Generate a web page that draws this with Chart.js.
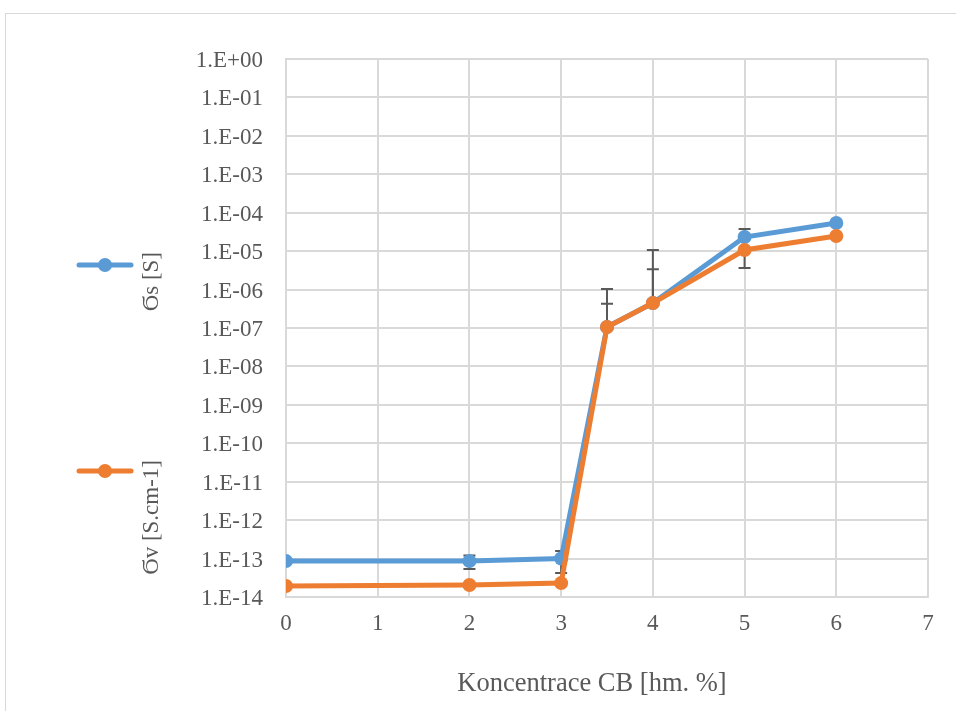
<!DOCTYPE html>
<html>
<head>
<meta charset="utf-8">
<script src="https://cdn.jsdelivr.net/npm/chart.js@4.4.1/dist/chart.umd.min.js"></script>
<style>
  html, body { margin: 0; padding: 0; background: #fff; overflow: hidden; }
  .frame { position: absolute; left: 5px; top: 13px; width: 1000px; height: 800px;
           border-left: 1px solid #d9d9d9; border-top: 1px solid #d9d9d9; }
  canvas { position: absolute; left: 0; top: 0; }
</style>
</head>
<body>
<div class="frame"></div>
<canvas id="chart" width="956" height="711"></canvas>
<script>
// data
const concentrations = [0, 2, 3, 3.5, 4, 5, 6];
const sigmaS = [8.6e-14, 8.6e-14, 1.0e-13, 1.06e-7, 4.45e-7, 2.33e-5, 5.4e-5];
const sigmaV = [1.93e-14, 2.05e-14, 2.3e-14, 1.06e-7, 4.45e-7, 1.07e-5, 2.48e-5];

// error bar ends (null = no bar on that side)
const sigmaSHigh = [null, 1.2e-13, 1.57e-13, 1.03e-6, 1.07e-5, 3.77e-5, null];
const sigmaSLow  = [null, 5.35e-14, 4.2e-14, null, null, null, null];
const sigmaVHigh = [null, null, null, 4.3e-7, 3.4e-6, null, null];
const sigmaVLow  = [null, null, null, null, null, 3.64e-6, null];

const yExponents = [-14, -13, -12, -11, -10, -9, -8, -7, -6, -5, -4, -3, -2, -1, 0];
const xTicks = [0, 1, 2, 3, 4, 5, 6, 7];

const seriesNames = ['\u03ECs [S]', '\u03ECv [S.cm-1]'];
const xTitle = 'Koncentrace CB [hm. %]';
const blue = '#5b9bd5';
const orange = '#ed7d31';
const textColor = '#595959';
const gridColor = '#d9d9d9';
const fontFamily = '"Liberation Serif", "Times New Roman", serif';

const errorBars = {
  id: 'errorBars',
  beforeDatasetsDraw(chart) {
    const ctx = chart.ctx;
    const xs = chart.scales.x, ys = chart.scales.y;
    const sets = [[sigmaS, sigmaSLow, sigmaSHigh], [sigmaV, sigmaVLow, sigmaVHigh]];
    ctx.save();
    ctx.strokeStyle = textColor;
    ctx.lineWidth = 2;
    sets.forEach(([vals, lows, highs]) => {
      vals.forEach((v, i) => {
        const px = xs.getPixelForValue(concentrations[i]);
        const pv = ys.getPixelForValue(v);
        [lows[i], highs[i]].forEach(end => {
          if (end == null) return;
          const pe = ys.getPixelForValue(end);
          ctx.beginPath();
          ctx.moveTo(px, pv);
          ctx.lineTo(px, pe);
          ctx.moveTo(px - 6, pe);
          ctx.lineTo(px + 6, pe);
          ctx.stroke();
        });
      });
    });
    ctx.restore();
  }
};

// legend on the left with upright text, plus the x axis title (sits a bit left of centre)
const sideLegend = {
  id: 'sideLegend',
  afterDraw(chart) {
    const ctx = chart.ctx;
    const items = [
      { color: blue, y: 265, textEnd: 252, label: seriesNames[0] },
      { color: orange, y: 471, textEnd: 460, label: seriesNames[1] }
    ];
    ctx.save();
    items.forEach(it => {
      ctx.strokeStyle = it.color;
      ctx.lineWidth = 5;
      ctx.lineCap = 'round';
      ctx.beginPath();
      ctx.moveTo(79, it.y);
      ctx.lineTo(131, it.y);
      ctx.stroke();
      ctx.fillStyle = it.color;
      ctx.beginPath();
      ctx.arc(105, it.y, 7, 0, Math.PI * 2);
      ctx.fill();

      ctx.save();
      ctx.translate(152, it.textEnd);
      ctx.rotate(-Math.PI / 2);
      ctx.fillStyle = textColor;
      ctx.font = '23px ' + fontFamily;
      ctx.textAlign = 'right';
      ctx.textBaseline = 'middle';
      ctx.fillText(it.label, 0, 0);
      ctx.restore();
    });

    ctx.fillStyle = textColor;
    ctx.font = '26.5px ' + fontFamily;
    ctx.textAlign = 'center';
    ctx.textBaseline = 'middle';
    ctx.fillText(xTitle, 592, 684);
    ctx.restore();
  }
};

const ctx = document.getElementById('chart').getContext('2d');
new Chart(ctx, {
  type: 'line',
  data: {
    datasets: [
      {
        label: seriesNames[0],
        data: concentrations.map((x, i) => ({ x, y: sigmaS[i] })),
        borderColor: blue,
        backgroundColor: blue,
        borderWidth: 5,
        pointRadius: 7,
        pointHoverRadius: 7,
        pointBorderWidth: 0,
        order: 2,
      },
      {
        label: seriesNames[1],
        data: concentrations.map((x, i) => ({ x, y: sigmaV[i] })),
        borderColor: orange,
        backgroundColor: orange,
        borderWidth: 5,
        pointRadius: 7,
        pointHoverRadius: 7,
        pointBorderWidth: 0,
        order: 1,
      },
    ],
  },
  options: {
    responsive: false,
    animation: false,
    devicePixelRatio: 1,
    layout: { padding: { left: 150, right: 28, top: 59, bottom: 0 } },
    plugins: {
      legend: { display: false },
      tooltip: { enabled: false },
    },
    scales: {
      x: {
        type: 'linear',
        min: 0,
        max: 7,
        afterBuildTicks: scale => { scale.ticks = xTicks.map(v => ({ value: v })); },
        afterFit: scale => { scale.height = 114; },
        grid: { color: gridColor, lineWidth: 2, drawTicks: false },
        border: { color: gridColor, width: 2 },
        ticks: {
          color: textColor,
          padding: 13,
          font: { family: fontFamily, size: 23 },
          maxRotation: 0,
        },
      },
      y: {
        type: 'logarithmic',
        min: 1e-14,
        max: 1,
        afterBuildTicks: scale => { scale.ticks = yExponents.map(e => ({ value: Math.pow(10, e) })); },
        afterFit: scale => { scale.width = 136; },
        grid: { color: gridColor, lineWidth: 2, drawTicks: false },
        border: { color: gridColor, width: 2 },
        ticks: {
          color: textColor,
          padding: 23,
          labelOffset: 2,
          font: { family: fontFamily, size: 23 },
          callback: value => {
            const e = Math.round(Math.log10(value));
            return '1.E' + (e < 0 ? '-' : '+') + String(Math.abs(e)).padStart(2, '0');
          },
        },
      },
    },
  },
  plugins: [errorBars, sideLegend],
});
</script>
</body>
</html>
